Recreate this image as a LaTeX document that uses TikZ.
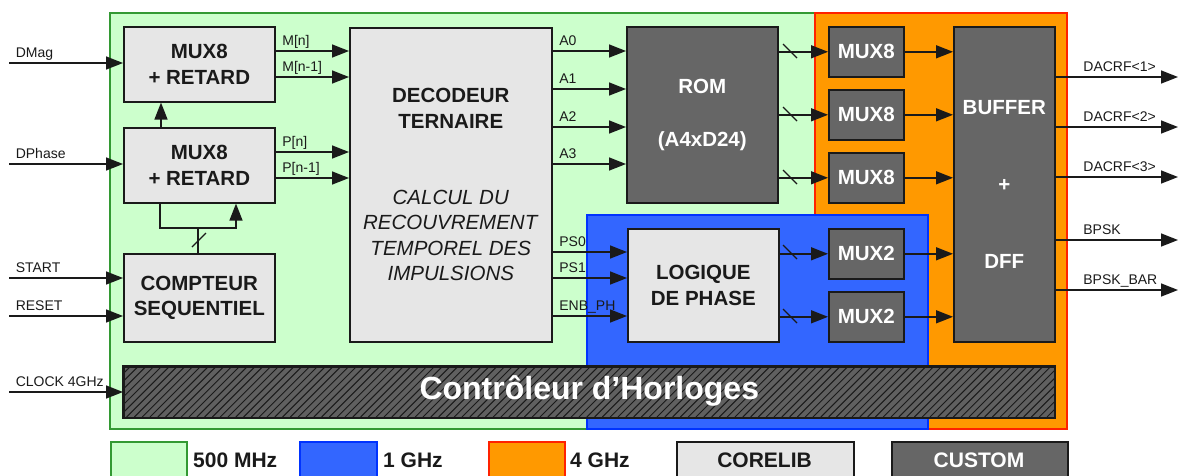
\documentclass[tikz,border=0pt]{standalone}
\usepackage{fontspec}
\setmainfont{Liberation Sans}
\usetikzlibrary{arrows.meta}
\definecolor{gfill}{HTML}{CCFFCC}
\definecolor{gline}{HTML}{339933}
\definecolor{ofill}{HTML}{FF9900}
\definecolor{oline}{HTML}{FF2200}
\definecolor{bfill}{HTML}{3366FF}
\definecolor{bline}{HTML}{0033FF}
\definecolor{lgray}{HTML}{E6E6E6}
\definecolor{dgray}{HTML}{666666}
\definecolor{hgray}{HTML}{606060}
\definecolor{ink}{HTML}{1A1A1A}
\begin{document}
\begin{tikzpicture}[x=1pt,y=-1pt,
  lbox/.style={draw=ink, line width=1.6pt, fill=lgray, inner sep=0pt, anchor=north west, align=center, font=\fontsize{20.5}{25.5}\selectfont\bfseries, text=ink},
  dbox/.style={lbox, fill=dgray, text=white},
  arr/.style={draw=ink, line width=1.6pt, -{Triangle[length=17pt,width=13pt]}},
  wire/.style={draw=ink, line width=1.6pt},
  sl/.style={draw=ink, line width=1.3pt},
  lbl/.style={font=\fontsize{14}{15}\selectfont, text=ink, anchor=base west, inner sep=0pt, yshift=6pt, xshift=6pt},
  olbl/.style={lbl, xshift=21pt},
  leg/.style={font=\fontsize{21}{25}\selectfont\bfseries, text=ink, anchor=west, inner sep=0pt},
  region/.style={line width=1.6pt},
]
\clip (0,0) rectangle (1181,475);
% clock domains
\draw[region, draw=gline, fill=gfill] (110,13) rectangle (815,429);
\draw[region, draw=oline, fill=ofill] (815,13) rectangle (1067,429);
\draw[region, draw=bline, fill=bfill] (587,215) rectangle (928,429);

% blocks
\node[lbox, minimum width=151pt, minimum height=75pt] (mux1) at (123,26) {MUX8\\+ RETARD};
\node[lbox, minimum width=151pt, minimum height=75pt] (mux2) at (123,127) {MUX8\\+ RETARD};
\node[lbox, minimum width=151pt, minimum height=88pt] (cnt) at (123,253) {COMPTEUR\\SEQUENTIEL};
\node[lbox, minimum width=202pt, minimum height=314pt, font=\fontsize{20.5}{25.4}\selectfont] (dec) at (349,27)
  {\textbf{DECODEUR}\\\textbf{TERNAIRE}\\[50.8pt]\textit{CALCUL DU}\\\textit{RECOUVREMENT}\\\textit{TEMPOREL DES}\\\textit{IMPULSIONS}};
\node[dbox, minimum width=151pt, minimum height=176pt] (rom) at (626,26) {ROM\\[27pt](A4xD24)};
\node[lbox, minimum width=151pt, minimum height=113pt] (logic) at (627,228) {LOGIQUE\\DE PHASE};
\node[dbox, minimum width=75pt, minimum height=50pt] (m8a) at (828,26) {MUX8};
\node[dbox, minimum width=75pt, minimum height=50pt] (m8b) at (828,89) {MUX8};
\node[dbox, minimum width=75pt, minimum height=50pt] (m8c) at (828,152) {MUX8};
\node[dbox, minimum width=75pt, minimum height=50pt] (m2a) at (828,228) {MUX2};
\node[dbox, minimum width=75pt, minimum height=50pt] (m2b) at (828,291) {MUX2};
\node[dbox, minimum width=101pt, minimum height=315pt, font=\fontsize{20.5}{25.7}\selectfont\bfseries] (buf) at (953,26) {BUFFER\\[51.4pt]+\\[51.4pt]DFF};

% clock controller (hatched)
\node[draw=ink, line width=1.6pt, fill=hgray, inner sep=0pt, anchor=north west, minimum width=931pt, minimum height=51pt] (clk) at (123,366) {};
\begin{scope}
  \clip (clk.south west) rectangle (clk.north east);
  \foreach \i in {0,...,126} {
    \draw[line width=1pt, ink] ({72+\i*7.8},417) -- ({123+\i*7.8},366);
  }
\end{scope}
\draw[ink, line width=1.6pt] (clk.south west) rectangle (clk.north east);
\node[font=\fontsize{32}{36}\selectfont\bfseries, text=white, inner sep=0pt] (clktxt) at ([yshift=1pt]clk.center) {Contrôleur d’Horloges};

% inputs
\coordinate (iDMag) at (9,63);
\coordinate (iDPh) at (9,164);
\coordinate (iStart) at (9,278);
\coordinate (iReset) at (9,316);
\coordinate (iClk) at (9,392);
\draw[arr] (iDMag) -- (mux1.west |- iDMag) node[lbl, pos=0] {DMag};
\draw[arr] (iDPh) -- (mux2.west |- iDPh) node[lbl, pos=0] {DPhase};
\draw[arr] (iStart) -- (cnt.west |- iStart) node[lbl, pos=0] {START};
\draw[arr] (iReset) -- (cnt.west |- iReset) node[lbl, pos=0] {RESET};
\draw[arr] (iClk) -- (clk.west |- iClk) node[lbl, pos=0] {CLOCK 4GHz};

% mux -> decoder
\draw[arr] (mux1.east |- 0,51) -- (dec.west |- 0,51) node[lbl, pos=0] {M[n]};
\draw[arr] (mux1.east |- 0,77) -- (dec.west |- 0,77) node[lbl, pos=0] {M[n-1]};
\draw[arr] (mux2.east |- 0,152) -- (dec.west |- 0,152) node[lbl, pos=0] {P[n]};
\draw[arr] (mux2.east |- 0,178) -- (dec.west |- 0,178) node[lbl, pos=0] {P[n-1]};

% mux2 -> mux1, feedback loop, counter
\draw[arr] (mux2.north -| 161,0) -- (mux1.south -| 161,0);
\coordinate (loopR) at (236,228);
\draw[arr] (mux2.south -| 160,0) |- (loopR) -- (mux2.south -| loopR);
\draw[wire] (cnt.north -| 198,0) -- (198,228);
\draw[sl] (192,247) -- (206,233);

% decoder -> ROM
\draw[arr] (dec.east |- 0,51) -- (rom.west |- 0,51) node[lbl, pos=0] {A0};
\draw[arr] (dec.east |- 0,89) -- (rom.west |- 0,89) node[lbl, pos=0] {A1};
\draw[arr] (dec.east |- 0,127) -- (rom.west |- 0,127) node[lbl, pos=0] {A2};
\draw[arr] (dec.east |- 0,164) -- (rom.west |- 0,164) node[lbl, pos=0] {A3};

% decoder -> logic
\draw[arr] (dec.east |- 0,252) -- (logic.west |- 0,252) node[lbl, pos=0] {PS0};
\draw[arr] (dec.east |- 0,278) -- (logic.west |- 0,278) node[lbl, pos=0] {PS1};
\draw[arr] (dec.east |- 0,316) -- (logic.west |- 0,316) node[lbl, pos=0] {ENB\_PH};

% ROM -> MUX8
\draw[arr] (rom.east |- m8a) -- (m8a);
\draw[arr] (rom.east |- m8b) -- (m8b);
\draw[arr] (rom.east |- m8c) -- (m8c);
\draw[sl] (783,44) -- (797,58);
\draw[sl] (783,107) -- (797,121);
\draw[sl] (783,170) -- (797,184);

% logic -> MUX2
\draw[arr] (logic.east |- m2a) -- (m2a);
\draw[arr] (logic.east |- m2b) -- (m2b);
\draw[sl] (783,245) -- (797,259);
\draw[sl] (783,309) -- (797,323);

% MUX -> buffer
\draw[arr] (m8a) -- (buf.west |- m8a);
\draw[arr] (m8b) -- (buf.west |- m8b);
\draw[arr] (m8c) -- (buf.west |- m8c);
\draw[arr] (m2a) -- (buf.west |- m2a);
\draw[arr] (m2b) -- (buf.west |- m2b);

% outputs
\coordinate (o1) at (1178,77);
\coordinate (o2) at (1178,127);
\coordinate (o3) at (1178,177);
\coordinate (o4) at (1178,240);
\coordinate (o5) at (1178,290);
\draw[arr] (buf.east |- o1) -- (o1) node[olbl, pos=0] {DACRF<1>};
\draw[arr] (buf.east |- o2) -- (o2) node[olbl, pos=0] {DACRF<2>};
\draw[arr] (buf.east |- o3) -- (o3) node[olbl, pos=0] {DACRF<3>};
\draw[arr] (buf.east |- o4) -- (o4) node[olbl, pos=0] {BPSK};
\draw[arr] (buf.east |- o5) -- (o5) node[olbl, pos=0] {BPSK\_BAR};

% legend
\node[draw=gline, fill=gfill, line width=1.6pt, inner sep=0pt, anchor=north west, minimum width=76pt, minimum height=50pt] (lg1) at (110,441) {};
\node[leg] (lt1) at (193,460) {500 MHz};
\node[draw=bline, fill=bfill, line width=1.6pt, inner sep=0pt, anchor=north west, minimum width=77pt, minimum height=50pt] (lg2) at (299,441) {};
\node[leg] (lt2) at (383,460) {1 GHz};
\node[draw=oline, fill=ofill, line width=1.6pt, inner sep=0pt, anchor=north west, minimum width=76pt, minimum height=50pt] (lg3) at (488,441) {};
\node[leg] (lt3) at (570,460) {4 GHz};
\node[lbox, minimum width=177pt, minimum height=50pt, anchor=north west] (lg4) at (676,441) {};
\node[leg, anchor=center] (lt4) at (764.5,460) {CORELIB};
\node[dbox, minimum width=176pt, minimum height=50pt, anchor=north west] (lg5) at (891,441) {};
\node[leg, anchor=center, text=white] (lt5) at (979,460) {CUSTOM};
\end{tikzpicture}
\end{document}
